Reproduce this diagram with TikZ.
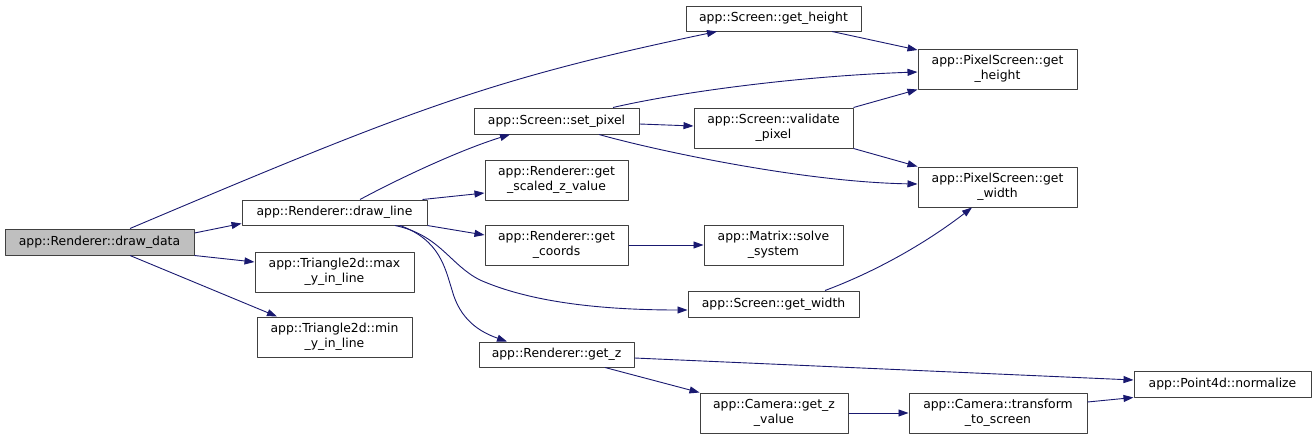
\documentclass[tikz,border=0pt]{standalone}
\usepackage{fontspec}
\setmainfont{DejaVu Sans}
\usetikzlibrary{arrows.meta,calc}
\definecolor{edgeblue}{HTML}{191970}
\definecolor{boxline}{HTML}{404040}
\definecolor{rootfill}{HTML}{BFBFBF}
\begin{document}
\begin{tikzpicture}[x=1pt,y=-1pt,>={Triangle[length=10pt,width=7pt]},line join=round,
	font=\fontsize{12.4}{14.6}\selectfont,
	fn/.style={draw=boxline,line width=1pt,fill=white,inner sep=0pt,align=center},
	root/.style={fn,fill=rootfill},
	call/.style={->,edgeblue,line width=0.9pt}]
	\useasboundingbox (0,0) rectangle (1316,439);
	\node[root,minimum width=189,minimum height=26] (dd) at (99.5,242) {app::Renderer::draw\_data};
	\node[fn,minimum width=185,minimum height=25] (dl) at (334.5,212.5) {app::Renderer::draw\_line};
	\node[fn,minimum width=159,minimum height=40] (mx) at (334.5,272) {app::Triangle2d::max\\\_y\_in\_line};
	\node[fn,minimum width=155,minimum height=40] (mn) at (334.5,337) {app::Triangle2d::min\\\_y\_in\_line};
	\node[fn,minimum width=175,minimum height=25] (sh) at (773.5,18.5) {app::Screen::get\_height};
	\node[fn,minimum width=165,minimum height=26] (sp) at (556.5,121) {app::Screen::set\_pixel};
	\node[fn,minimum width=159,minimum height=40] (vp) at (773.5,128) {app::Screen::validate\\\_pixel};
	\node[fn,minimum width=143,minimum height=40] (sz) at (556.5,180) {app::Renderer::get\\\_scaled\_z\_value};
	\node[fn,minimum width=143,minimum height=40] (gc) at (556.5,245) {app::Renderer::get\\\_coords};
	\node[fn,minimum width=139,minimum height=40] (ss) at (773.5,245) {app::Matrix::solve\\\_system};
	\node[fn,minimum width=171,minimum height=26] (sw) at (773.5,304) {app::Screen::get\_width};
	\node[fn,minimum width=155,minimum height=25] (gz) at (556.5,354.5) {app::Renderer::get\_z};
	\node[fn,minimum width=148,minimum height=40] (cz) at (774,413) {app::Camera::get\_z\\\_value};
	\node[fn,minimum width=159,minimum height=40] (ph) at (997.5,69) {app::PixelScreen::get\\\_height};
	\node[fn,minimum width=159,minimum height=40] (pw) at (997.5,187) {app::PixelScreen::get\\\_width};
	\node[fn,minimum width=178,minimum height=40] (ct) at (998,413) {app::Camera::transform\\\_to\_screen};
	\node[fn,minimum width=177,minimum height=26] (pn) at (1222.5,384) {app::Point4d::normalize};
	\draw[call] ($(dd.north)+(30.5,0)$) .. controls (410,110) and (490,79) .. ($(sh.south)+(-56.5,0)$);
	\draw[call] ($(dd.east)+(0,-9)$) -- ($(dl.west)+(0,11)$);
	\draw[call] (dd.south east) -- ($(mx.west)+(0,-10)$);
	\draw[call] ($(dd.south)+(30.5,0)$) -- ($(mn.north)+(-57.5,0)$);
	\draw[call] ($(dl.north)+(25.5,0)$) .. controls (400,178) and (460,150) .. ($(sp.south)+(-46.5,0)$);
	\draw[call] ($(dl.north east)+(-5,0)$) -- ($(sz.west)+(0,13)$);
	\draw[call] (dl.south east) -- ($(gc.west)+(0,-10)$);
	\draw[call] ($(dl.south)+(60.5,0)$) .. controls (440,235) and (450,265) .. (480,280)
		.. controls (530,302) and (600,310) .. ($(sw.west)+(0,6)$);
	\draw[call] ($(dl.south)+(65.5,0)$) .. controls (440,240) and (445,268) .. (452,290)
		.. controls (460,320) and (480,332) .. ($(gz.north)+(-49.5,0)$);
	\draw[call] ($(sp.north)+(56.5,0)$) .. controls (680,92) and (800,76) .. ($(ph.west)+(0,3)$);
	\draw[call] ($(sp.east)+(0,3)$) -- ($(vp.west)+(0,-2)$);
	\draw[call] ($(sp.south)+(42.5,0)$) .. controls (650,149) and (800,182) .. ($(pw.west)+(0,-3)$);
	\draw[call] ($(sh.south)+(58.5,0)$) -- ($(ph.west)+(0,-19)$);
	\draw[call] (vp.north east) -- (ph.south west);
	\draw[call] (vp.south east) -- (pw.north west);
	\draw[call] (gc.east) -- (ss.west);
	\draw[call] ($(sw.north)+(51.5,0)$) .. controls (880,270) and (930,240) .. ($(pw.south)+(-25.5,0)$);
	\draw[call] ($(gz.east)+(0,3.5)$) -- ($(pn.west)+(0,-4)$);
	\draw[call] ($(gz.south)+(48.5,0)$) -- (cz.north west);
	\draw[call] (cz.east) -- (ct.west);
	\draw[call] ($(ct.east)+(0,-11)$) -- (pn.south west);
\end{tikzpicture}
\end{document}
